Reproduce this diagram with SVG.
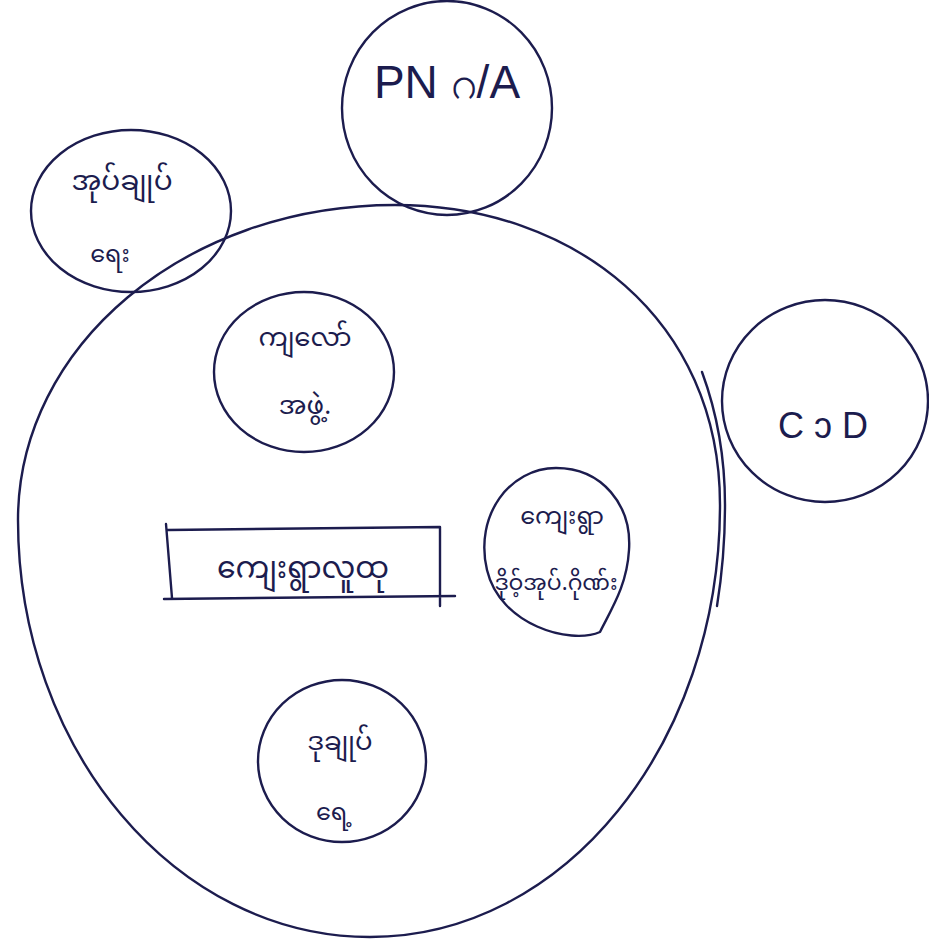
<svg xmlns="http://www.w3.org/2000/svg" width="929" height="944" viewBox="0 0 929 944">
<style>
.ln{fill:none;stroke:#1c1c4e;stroke-width:2.4;stroke-linecap:round;stroke-linejoin:round}
.tx{font-family:"Noto Sans Myanmar","Padauk","Myanmar Text","Noto Sans","DejaVu Sans",sans-serif;fill:#1c1c4e;text-anchor:middle}
.lt{font-family:"Liberation Sans","DejaVu Sans",sans-serif;fill:#1c1c4e;text-anchor:middle}
</style>
<rect width="929" height="944" fill="#ffffff"/>
<g id="outer">
<path class="ln" d="M395,205 C575,205 720,320 720,505 C720,745 564,937 370,937 C176,937 18,750 18,520 C18,346 185,205 395,205 Z"/>
<path class="ln" d="M702,372 C716,410 725,455 725,505 C725,540 722,575 717,606"/>
</g>
<g id="pn">
<ellipse class="ln" cx="447" cy="108" rx="105" ry="107"/>
<text class="lt" x="447" y="98" font-size="46">PN ဂ/A</text>
</g>
<g id="admin">
<ellipse class="ln" cx="131" cy="211" rx="100" ry="81"/>
<text class="tx" x="122" y="190" font-size="28">အုပ်ချုပ်</text>
<text class="tx" x="110" y="262" font-size="24">ရေး</text>
</g>
<g id="group">
<ellipse class="ln" cx="304" cy="372" rx="90" ry="80"/>
<text class="tx" x="305" y="346" font-size="26">ကျလော်</text>
<text class="tx" x="305" y="414" font-size="26">အဖွဲ့.</text>
</g>
<g id="cdd">
<ellipse class="ln" cx="825" cy="401" rx="103" ry="101"/>
<text class="lt" x="823" y="438" font-size="36">C ɔ D</text>
</g>
<g id="village">
<path class="ln" d="M600,632 C570,645 500,625 487,570 C474,515 510,468 556,468 C602,468 632,505 629,550 C627,585 612,608 600,632 Z"/>
<text class="tx" x="562" y="524" font-size="24">ကျေးရွာ</text>
<text class="tx" x="556" y="590" font-size="22">ဒိုဝ့်အုပ်.ဂိုဏ်း</text>
</g>
<g id="community">
<path class="ln" d="M166,524 L172,598 M168,530 L440,527 L440,606 M164,599 L455,596"/>
<text class="tx" x="303" y="578" font-size="30">ကျေးရွာလူထု</text>
</g>
<g id="deputy">
<ellipse class="ln" cx="342" cy="761" rx="84" ry="81"/>
<text class="tx" x="340" y="750" font-size="26">ဒုချုပ်</text>
<text class="tx" x="334" y="820" font-size="24">ရေ့</text>
</g>
<g id="connectors"></g>
</svg>
